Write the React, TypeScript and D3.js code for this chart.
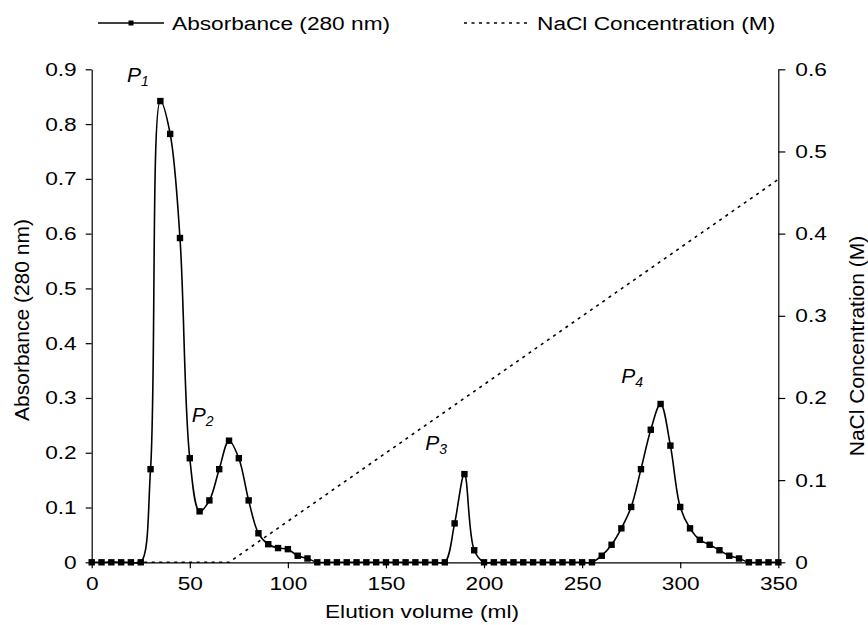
import { useEffect, useRef } from "react";
import * as d3 from "d3";

// elution volume (ml), one fraction every 5 ml
const volumes = [
  0, 5, 10, 15, 20, 25, 30, 35, 40, 45, 50, 55, 60, 65, 70, 75, 80, 85, 90, 95,
  100, 105, 110, 115, 120, 125, 130, 135, 140, 145, 150, 155, 160, 165, 170, 175,
  180, 185, 190, 195, 200, 205, 210, 215, 220, 225, 230, 235, 240, 245, 250, 255,
  260, 265, 270, 275, 280, 285, 290, 295, 300, 305, 310, 315, 320, 325, 330, 335,
  340, 345, 350,
];

// absorbance at 280 nm
const absorbance = [
  0, 0, 0, 0, 0, 0, 0.17, 0.842, 0.782, 0.592, 0.19, 0.093, 0.113, 0.17, 0.222,
  0.19, 0.113, 0.053, 0.033, 0.026, 0.024, 0.012, 0.007, 0, 0, 0, 0, 0, 0, 0, 0,
  0, 0, 0, 0, 0, 0, 0.071, 0.161, 0.022, 0, 0, 0, 0, 0, 0, 0, 0, 0, 0, 0, 0,
  0.012, 0.032, 0.062, 0.101, 0.17, 0.242, 0.289, 0.213, 0.101, 0.062, 0.041,
  0.032, 0.022, 0.012, 0.007, 0, 0, 0, 0,
];

// NaCl gradient (M)
const naclVolumes = [0, 70, 350];
const naclConc = [0, 0, 0.466];

const xTicks = [0, 50, 100, 150, 200, 250, 300, 350];
const leftTicks = [0, 0.1, 0.2, 0.3, 0.4, 0.5, 0.6, 0.7, 0.8, 0.9];
const rightTicks = [0, 0.1, 0.2, 0.3, 0.4, 0.5, 0.6];

// peak labels: [volume, absorbance position, name, subscript]
const peakLabels: [number, number, string, string][] = [
  [18, 0.877, "P", "1"],
  [51, 0.257, "P", "2"],
  [170, 0.205, "P", "3"],
  [270, 0.328, "P", "4"],
];

function App() {
  const ref = useRef<SVGSVGElement>(null);

  useEffect(() => {
    const W = 868,
      H = 625;
    const margin = { top: 69.3, right: 89.7, bottom: 62.7, left: 91.7 };
    const width = W - margin.left - margin.right;
    const height = H - margin.top - margin.bottom;
    const font = "'Liberation Sans', Arial, sans-serif";
    // the original picture is a little wider than tall, so the flat text is stretched
    const sx = 1.22;
    const fs = "18.6px";

    const root = d3.select(ref.current);
    root.selectAll("*").remove();
    root.attr("width", W).attr("height", H);

    const svg = root
      .append("g")
      .attr("transform", `translate(${margin.left},${margin.top})`);

    const x = d3.scaleLinear().domain([0, 350]).range([0, width]);
    const y = d3.scaleLinear().domain([0, 0.9]).range([height, 0]);
    const y2 = d3.scaleLinear().domain([0, 0.6]).range([height, 0]);

    // axes
    const styleAxis = (g: any) => {
      g.selectAll("path").attr("stroke", "#000").attr("stroke-width", 1.2);
      g.selectAll("line").attr("stroke", "#000").attr("stroke-width", 1.2);
      g.selectAll("text")
        .attr("fill", "#000")
        .style("font-family", font)
        .style("font-size", fs)
        .each(function (this: any) {
          const t = d3.select(this);
          const tx = +(t.attr("x") || 0);
          t.attr("x", 0).attr("transform", `translate(${tx},0) scale(${sx},1)`);
        });
    };

    svg
      .append("g")
      .attr("transform", `translate(0,${height})`)
      .call(
        d3
          .axisBottom(x)
          .tickValues(xTicks)
          .tickSize(6)
          .tickSizeOuter(0)
          .tickPadding(8)
          .tickFormat(d3.format("d"))
      )
      .call(styleAxis);

    svg
      .append("g")
      .call(
        d3
          .axisLeft(y)
          .tickValues(leftTicks)
          .tickSize(6)
          .tickSizeOuter(0)
          .tickPadding(9)
          .tickFormat((d: any) => (d === 0 ? "0" : d3.format(".1f")(d)))
      )
      .call(styleAxis);

    svg
      .append("g")
      .attr("transform", `translate(${width},0)`)
      .call(
        d3
          .axisRight(y2)
          .tickValues(rightTicks)
          .tickSize(7)
          .tickSizeOuter(0)
          .tickPadding(10)
          .tickFormat((d: any) => (d === 0 ? "0" : d3.format(".1f")(d)))
      )
      .call(styleAxis);

    // NaCl gradient
    const nacl = naclVolumes.map((v, i) => ({ v, c: naclConc[i] }));
    svg
      .append("path")
      .datum(nacl)
      .attr("fill", "none")
      .attr("stroke", "#000")
      .attr("stroke-width", 1.6)
      .attr("stroke-dasharray", "3,4.5")
      .attr(
        "d",
        d3
          .line<any>()
          .x((d) => x(d.v))
          .y((d) => y2(d.c))
      );

    // absorbance
    const abs = volumes.map((v, i) => ({ v, a: absorbance[i] }));
    svg
      .append("path")
      .datum(abs)
      .attr("fill", "none")
      .attr("stroke", "#000")
      .attr("stroke-width", 1.6)
      .attr(
        "d",
        d3
          .line<any>()
          .curve(d3.curveCatmullRom.alpha(0.5))
          .x((d) => x(d.v))
          .y((d) => y(d.a))
      );

    const ms = 6.4;
    svg
      .selectAll(".mk")
      .data(abs)
      .enter()
      .append("rect")
      .attr("x", (d) => x(d.v) - ms / 2)
      .attr("y", (d) => y(d.a) - ms / 2)
      .attr("width", ms)
      .attr("height", ms)
      .attr("fill", "#000");

    // peak labels
    peakLabels.forEach(([v, a, name, sub]) => {
      const t = svg
        .append("text")
        .attr("x", x(v))
        .attr("y", y(a))
        .style("font-family", font)
        .style("font-size", "21px")
        .style("font-style", "italic");
      t.append("tspan").text(name);
      t.append("tspan")
        .attr("dy", 4)
        .style("font-size", "14px")
        .text(sub);
    });

    // axis titles
    root
      .append("text")
      .attr("transform", `translate(422,618) scale(${sx},1)`)
      .attr("text-anchor", "middle")
      .style("font-family", font)
      .style("font-size", fs)
      .text("Elution volume (ml)");

    root
      .append("text")
      .attr("transform", `translate(29,320) rotate(-90)`)
      .attr("text-anchor", "middle")
      .style("font-family", font)
      .style("font-size", "21px")
      .text("Absorbance (280 nm)");

    root
      .append("text")
      .attr("transform", `translate(864,346) rotate(-90)`)
      .attr("text-anchor", "middle")
      .style("font-family", font)
      .style("font-size", "21px")
      .text("NaCl Concentration (M)");

    // legend
    const lg = root.append("g");
    lg.append("line")
      .attr("x1", 98)
      .attr("x2", 164)
      .attr("y1", 23)
      .attr("y2", 23)
      .attr("stroke", "#000")
      .attr("stroke-width", 1.6);
    lg.append("rect")
      .attr("x", 128.5)
      .attr("y", 20.5)
      .attr("width", 5)
      .attr("height", 5)
      .attr("fill", "#000");
    lg.append("text")
      .attr("transform", `translate(172,30) scale(${sx},1)`)
      .style("font-family", font)
      .style("font-size", fs)
      .text("Absorbance (280 nm)");

    lg.append("line")
      .attr("x1", 464)
      .attr("x2", 527)
      .attr("y1", 23)
      .attr("y2", 23)
      .attr("stroke", "#000")
      .attr("stroke-width", 1.6)
      .attr("stroke-dasharray", "3,4.5");
    lg.append("text")
      .attr("transform", `translate(537,30) scale(${sx},1)`)
      .style("font-family", font)
      .style("font-size", fs)
      .text("NaCl Concentration (M)");
  }, []);

  return (
    <svg
      ref={ref}
      style={{ position: "absolute", left: 0, top: 0, background: "#fff" }}
    ></svg>
  );
}

export default App;
